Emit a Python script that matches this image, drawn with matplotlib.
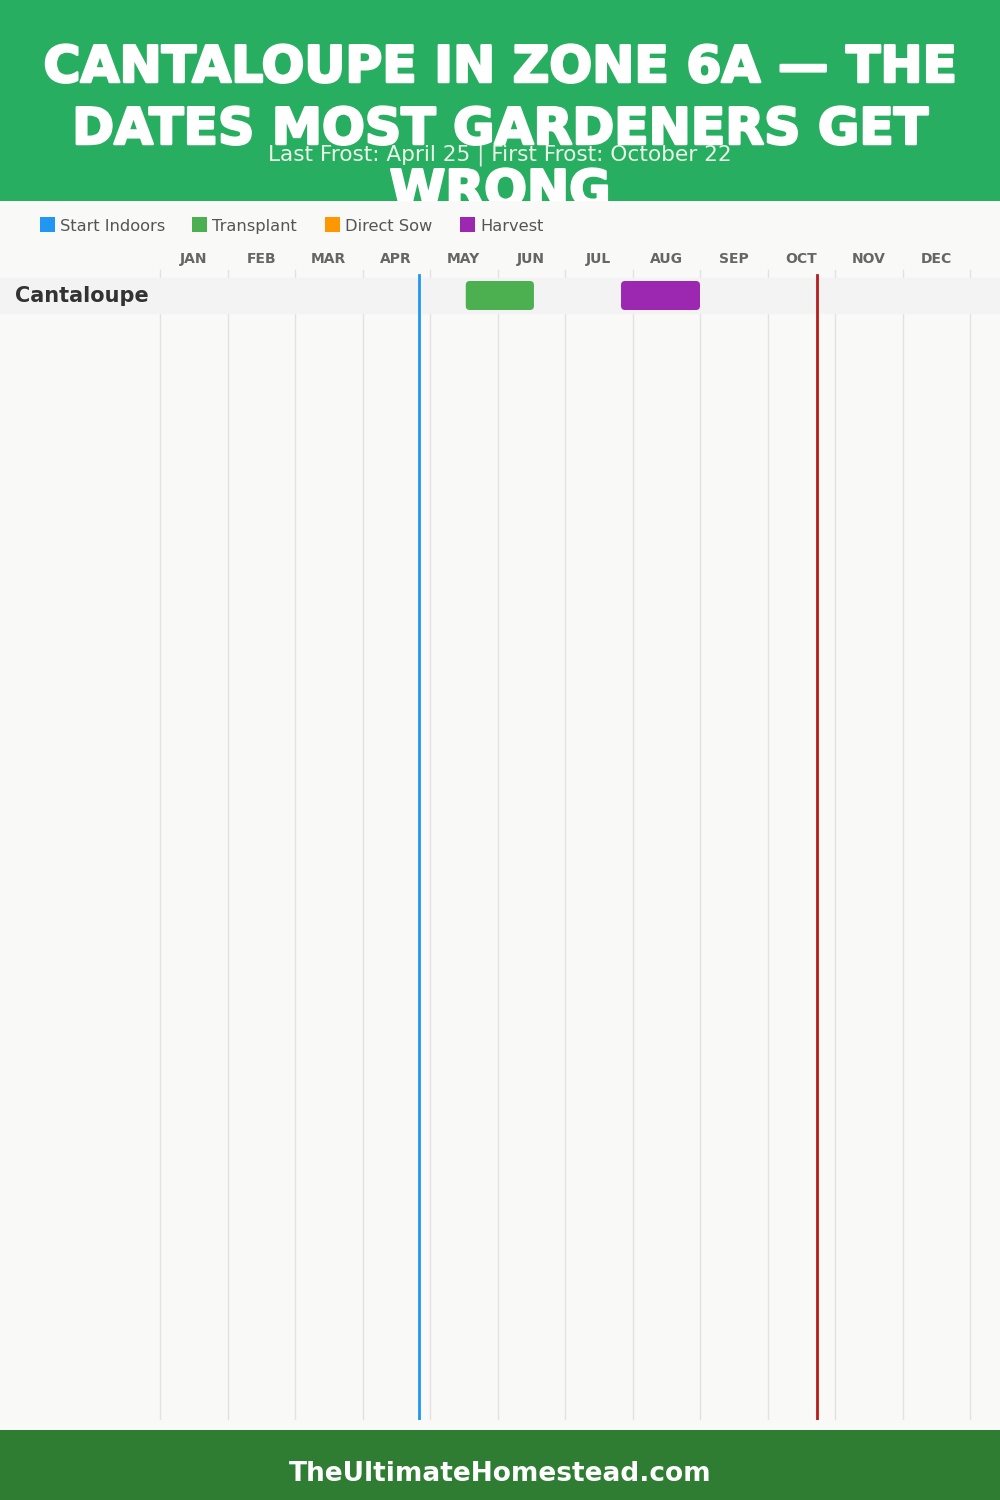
import matplotlib.pyplot as plt
import matplotlib.patheffects as pe
from matplotlib.patches import Rectangle, FancyBboxPatch

# --- data ---
title_lines = ["CANTALOUPE IN ZONE 6A — THE", "DATES MOST GARDENERS GET", "WRONG"]
subtitle = "Last Frost: April 25 | First Frost: October 22"
footer = "TheUltimateHomestead.com"
months = ["JAN", "FEB", "MAR", "APR", "MAY", "JUN",
          "JUL", "AUG", "SEP", "OCT", "NOV", "DEC"]
crops = ["Cantaloupe"]
# month units, 0 = Jan 1 (month index + day/30)
transplant = [(4.53, 5.54)]
harvest = [(6.83, 8.0)]
direct_sow = [None]
start_indoors = [None]
last_frost = 3 + 25 / 30    # April 25
first_frost = 9 + 22 / 30   # October 22
legend_names = ["Start Indoors", "Transplant", "Direct Sow", "Harvest"]
legend_colors = ["#2196F3", "#4CAF50", "#FF9800", "#9C27B0"]

W, H = 1000, 1500
fig = plt.figure(figsize=(10, 15), dpi=100)
fig.patch.set_facecolor("#f9f9f8")

def fy(px):
    return 1 - px / H

# header / body / footer blocks
fig.patches.append(Rectangle((0, fy(201)), 1, 201 / H, transform=fig.transFigure,
                             facecolor="#27ae60", edgecolor="none", zorder=0))
fig.patches.append(Rectangle((0, fy(1430)), 1, (1430 - 201) / H, transform=fig.transFigure,
                             facecolor="#f9f9f8", edgecolor="none", zorder=2))
fig.patches.append(Rectangle((0, 0), 1, 70 / H, transform=fig.transFigure,
                             facecolor="#2e7d32", edgecolor="none", zorder=2))

heavy = [pe.withStroke(linewidth=1.8, foreground="white")]
title_font = dict(family="DejaVu Sans", weight="bold", color="white")
for line, base in zip(title_lines, [82, 144, 206]):
    fig.text(0.5, fy(base), line, ha="center", va="baseline", fontsize=36.3,
             zorder=1, path_effects=heavy, **title_font)
fig.text(0.5, fy(161), subtitle, ha="center", va="baseline", fontsize=15.6,
         color="#e8f5e9", family="DejaVu Sans", zorder=1.5)
fig.text(0.5, fy(1481), footer, ha="center", va="baseline", fontsize=19,
         zorder=3, **title_font)

# legend
leg_x = [40, 192, 325, 460]
for x, name, c in zip(leg_x, legend_names, legend_colors):
    fig.patches.append(Rectangle((x / W, fy(232)), 15 / W, 15 / H, transform=fig.transFigure,
                                 facecolor=c, edgecolor="none", zorder=3))
    fig.text((x + 20) / W, fy(231), name, ha="left", va="baseline", fontsize=11.7,
             color="#555555", family="DejaVu Sans", zorder=3)

# chart axes: spans full width, month 0 at x=160px, 67.5 px per month
px_month = 67.5
row_h = 35
top, bottom = 268, 1420
ax = fig.add_axes([0, fy(bottom), 1, (bottom - top) / H])
ax.set_zorder(4)
ax.patch.set_visible(False)
ax.set_xlim(-160 / px_month, (W - 160) / px_month)
ax.set_ylim((bottom - 295.5) / row_h, (top - 295.5) / row_h)
for s in ax.spines.values():
    s.set_visible(False)

for i in range(len(months) + 1):
    ax.axvline(i, ymin=0, ymax=0.998, color="#e2e2e2", lw=1, zorder=1)

ax.set_xticks([i + 0.5 for i in range(len(months))])
ax.set_xticklabels(months, fontsize=10, fontweight="bold", color="#666666",
                   family="DejaVu Sans")
ax.xaxis.tick_top()
ax.tick_params(axis="x", length=0, pad=1.5)
ax.set_yticks([])

bar_h = 29 / row_h
for r, crop in enumerate(crops):
    ax.axhspan(r - 0.5, r + 0.5, color="#f3f3f3", zorder=2)
    ax.text(0.015, r, crop, transform=ax.get_yaxis_transform(), ha="left", va="center",
            fontsize=15, fontweight="bold", color="#333333", family="DejaVu Sans",
            zorder=5)
    for spans, c in zip([start_indoors, transplant, direct_sow, harvest], legend_colors):
        sp = spans[r]
        if sp is None:
            continue
        x0, x1 = sp
        ax.add_patch(FancyBboxPatch((x0, r - bar_h / 2), x1 - x0, bar_h,
                                    boxstyle="round,pad=0,rounding_size=0.06",
                                    mutation_aspect=px_month / row_h,
                                    facecolor=c, edgecolor="none", zorder=4))

ax.axvline(last_frost, ymin=0, ymax=0.994, color="#2196F3", lw=2, zorder=5)
ax.axvline(first_frost, ymin=0, ymax=0.994, color="#b71c1c", lw=2, zorder=5)

fig.savefig("out.png", dpi=100, facecolor=fig.get_facecolor())
